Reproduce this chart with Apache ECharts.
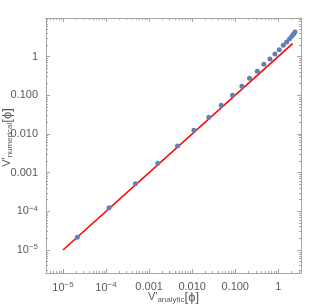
<!DOCTYPE html>
<html><head><meta charset="utf-8">
<script src="https://cdn.jsdelivr.net/npm/echarts@6/dist/echarts.min.js"></script>
<style>html,body{margin:0;padding:0;background:#fff}#c{width:320px;height:307px}</style>
</head><body><div id="c"></div>
<script>
// data (raw values, log-log plot)
const analyticX = [2.15e-5, 1.175e-4, 4.8e-4, 1.59e-3, 4.55e-3, 0.01096, 0.0244, 0.0472, 0.0865, 0.143, 0.215, 0.325, 0.464, 0.641, 0.837, 1.055, 1.31, 1.56, 1.83, 2.08, 2.27, 2.44];
const numericalY = [2.13e-5, 1.24e-4, 5.16e-4, 1.74e-3, 4.87e-3, 0.01239, 0.0268, 0.0548, 0.0994, 0.170, 0.273, 0.415, 0.629, 0.862, 1.16, 1.50, 1.95, 2.37, 2.88, 3.39, 3.81, 4.30];
const refLineX = [1e-5, 2.15];
const refLineY = [1e-5, 2.15];
const majorTicks = [1e-5, 1e-4, 1e-3, 1e-2, 1e-1, 1];
const tickLabels = ['10^-5', '10^-4', '0.001', '0.010', '0.100', '1'];
const xRange = [4.03e-6, 3.37];
const yRange = [2.55e-6, 9.88];

const L = v => Math.log10(v);
const majorLog = majorTicks.map(L);
const minorLog = [];
for (let e = -6; e <= 1; e++) for (let k = 2; k <= 9; k++) minorLog.push(Math.log10(k) + e);
const labelMap = {};
majorLog.forEach((v, i) => labelMap[Math.round(v)] = tickLabels[i]);

const gray = '#a6a6a6';
const txt = '#5a5a5a';
const font = '"Liberation Sans", Arial, sans-serif';
const labelRich = {
  n: {fontSize: 11, color: txt, fontFamily: font},
  sup: {fontSize: 8, color: txt, fontFamily: font, verticalAlign: 'top', padding: [0, 0, 6, 0]}
};
function fmt(v) {
  const s = labelMap[Math.round(v)];
  if (!s) return '';
  if (s.indexOf('^') > 0) {
    const p = s.split('^');
    return '{n|' + p[0] + '}{sup|' + p[1].replace('-', '\u2212') + '}';
  }
  return '{n|' + s + '}';
}
function axisSet(kind, range, pos, withLabel, minor, extra) {
  return Object.assign({
    type: 'value', min: L(range[0]), max: L(range[1]), position: pos,
    axisLine: {show: !minor, onZero: false, lineStyle: {color: gray, width: 1}},
    axisTick: {show: true, inside: true, length: minor ? 2 : 4, customValues: minor ? minorLog : majorLog,
      lineStyle: {color: gray, width: 1}},
    axisLabel: withLabel ? {show: true, customValues: majorLog, formatter: fmt, rich: labelRich, margin: 8} : {show: false},
    splitLine: {show: false}
  }, extra || {});
}
const nameRich = {
  a: {fontSize: 11, color: txt, fontFamily: font},
  b: {fontSize: 13, color: txt, fontFamily: font},
  s: {fontSize: 8, color: txt, fontFamily: font, verticalAlign: 'bottom', padding: [6, 0, 0, 0]}
};
const chart = echarts.init(document.getElementById('c'), null, {renderer: 'canvas'});
chart.setOption({
  animation: false,
  backgroundColor: '#fff',
  grid: {left: 46, right: 19, top: 18, bottom: 34, containLabel: false, outerBoundsMode: 'none'},
  xAxis: [
    axisSet('x', xRange, 'bottom', true, false, {
      name: "{a|V'}{s|analytic}{b|[\u03D5]}", nameLocation: 'middle', nameGap: 17, nameMoveOverlap: false,
      nameTextStyle: {rich: nameRich}
    }),
    axisSet('x', xRange, 'bottom', false, true),
    axisSet('x', xRange, 'top', false, false),
    axisSet('x', xRange, 'top', false, true)
  ],
  yAxis: [
    axisSet('y', yRange, 'left', true, false, {
      name: "{a|V'}{s|numerical}{b|[\u03D5]}", nameLocation: 'middle', nameGap: 32, nameMoveOverlap: false,
      nameTextStyle: {rich: nameRich, padding: [0, 0, 0, 16]}
    }),
    axisSet('y', yRange, 'left', false, true),
    axisSet('y', yRange, 'right', false, false),
    axisSet('y', yRange, 'right', false, true)
  ],
  series: [
    {
      type: 'line', xAxisIndex: 0, yAxisIndex: 0,
      data: refLineX.map((x, i) => [L(x), L(refLineY[i])]),
      showSymbol: false, lineStyle: {color: '#ff0000', width: 1.6}, z: 2
    },
    {
      type: 'scatter', xAxisIndex: 0, yAxisIndex: 0,
      data: analyticX.map((x, i) => [L(x), L(numericalY[i])]),
      symbol: 'circle', symbolSize: 5, itemStyle: {color: '#5e81b5', opacity: 1}, z: 3
    }
  ]
});
</script></body></html>
